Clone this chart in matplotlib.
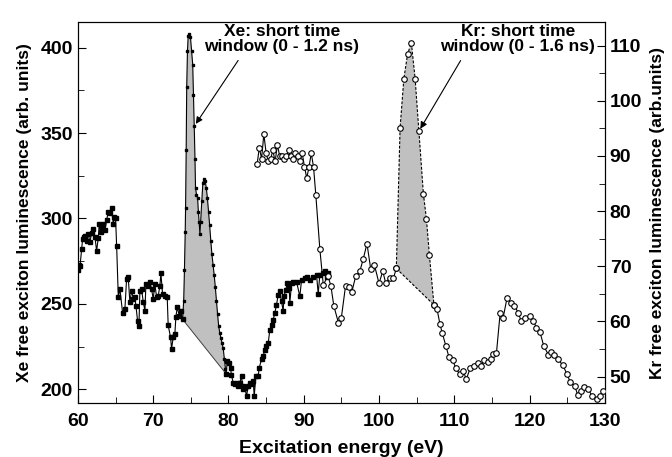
import matplotlib
matplotlib.use("Agg")
import matplotlib.pyplot as plt
from matplotlib.ticker import MultipleLocator

plt.rcParams['font.family'] = ['Liberation Sans', 'DejaVu Sans']
plt.rcParams['font.weight'] = 'bold'
plt.rcParams['axes.labelweight'] = 'bold'

# Xe free exciton luminescence (left axis), total signal
xe_e1 = [60.0, 60.1, 60.27, 60.49, 60.62, 60.8, 60.93, 61.15, 61.37, 61.59, 61.81, 62.04,
         62.26, 62.48, 62.7, 62.83, 63.0, 63.14, 63.36, 63.59, 63.81, 64.03, 64.25, 64.47,
         64.69, 64.85, 65.0, 65.14, 65.36, 65.58, 65.93, 66.24, 66.46, 66.68, 66.9, 67.13,
         67.35, 67.57, 67.7, 67.92, 68.1, 68.23, 68.45, 68.68, 68.9, 69.03, 69.25, 69.56,
         69.78, 70.0, 70.22, 70.45, 70.67, 70.89, 71.02, 71.24, 71.55, 71.86, 71.99, 72.3,
         72.44, 72.66, 72.88, 73.01, 73.19, 73.46, 73.63, 73.9]
xe_v1 = [270, 273, 272, 282, 288, 289, 290, 287, 291, 286, 291.5, 294,
         289, 281, 288.6, 297, 292, 295, 297, 293, 299, 304, 303.5, 306,
         297, 301, 300, 284, 254, 258.7, 244.8, 247.1, 264.5, 265.5, 251, 257.8,
         252.9, 253.9, 249, 240.3, 237, 257.8, 258.7, 251, 246.1, 261.6, 260.7, 262.6,
         258.7, 252.9, 261.6, 253.9, 254.8, 260.7, 268, 255.8, 254.8, 253.9, 237.4, 230.6,
         223.8, 230.6, 232.6, 242.2, 248.1, 243.2, 246.1, 241]

# Xe short time window (0 - 1.2 ns)
xe_e2 = [73.9, 74.05, 74.15, 74.25, 74.3, 74.38, 74.45, 74.55, 74.65, 74.8, 74.95, 75.1,
         75.25, 75.35, 75.45, 75.55, 75.62, 75.75, 75.9, 76.0, 76.1, 76.2, 76.3, 76.45,
         76.6, 76.75, 76.9, 77.05, 77.2, 77.35, 77.5, 77.65, 77.8, 77.95, 78.1, 78.25,
         78.4, 78.55, 78.7, 78.85, 79.0, 79.15, 79.3, 79.45, 79.6, 79.7]
xe_v2 = [241, 252, 270, 292, 306, 340, 377, 398, 407, 408, 406, 398,
         390, 372, 354, 335, 318, 314, 312, 304, 298, 291, 298, 310,
         321, 323, 322, 318, 312, 304, 296, 287, 279, 273, 267, 260,
         252, 244, 237, 233, 230, 227, 224, 218, 212, 209]

xe_e3 = [79.7, 79.83, 80.1, 80.27, 80.4, 80.63, 80.85, 81.07, 81.29, 81.51, 81.74, 81.87,
         81.96, 82.18, 82.4, 82.62, 82.84, 83.06, 83.29, 83.42, 83.64, 83.95, 84.08, 84.39,
         84.61, 84.83, 85.05, 85.28, 85.5, 85.72, 85.94, 86.16, 86.38, 86.61, 86.83, 87.05,
         87.27, 87.36, 87.62, 87.8, 88.07, 88.15, 88.38, 88.6, 89.04, 89.48, 89.71, 90.15,
         90.37, 90.81, 91.25, 91.7, 91.92, 92.14, 92.5, 92.81, 93.03, 93.25]
xe_v3 = [209, 216.5, 215.5, 212.6, 208.2, 203.9, 202.9, 203.9, 201.9, 204, 207.8, 201.9,
         200, 201, 196.1, 201.9, 203.9, 202.9, 204.8, 196.1, 207.8, 207.8, 212.6, 217.5,
         219.4, 223.3, 225.3, 227.2, 235, 237.9, 240.8, 244.7, 249.5, 255.4, 257.3, 251.5,
         245.7, 254.4, 258.3, 262.2, 259.3, 250.5, 262.2, 263.1, 263.1, 254.4, 264.1, 265.1,
         266, 264.1, 266, 267, 256, 267, 268, 269, 266, 268]

# Kr free exciton luminescence (right axis)
kr_e1 = [83.8, 84.1, 84.4, 84.7, 85.0, 85.3, 85.6, 85.9, 86.2, 86.5, 86.8, 87.1, 87.4,
         87.7, 88.0, 88.3, 88.6, 88.9, 89.2, 89.5, 89.8, 90.1, 90.4, 90.7, 91.0, 91.3,
         91.6, 92.14, 92.6, 93.2, 93.6, 94.0, 94.6, 95.0, 95.55, 96.0, 96.4, 96.9, 97.45,
         97.9, 98.4, 98.9, 99.4, 100.0, 100.5, 100.9, 101.4, 101.9, 102.3]
kr_v1 = [88.5, 91.5, 89.5, 94, 90.5, 89, 89.5, 91, 89, 92, 90, 90, 89.5,
         90, 91, 90, 89.5, 90.5, 90, 89, 90.5, 88, 86, 88, 90.5, 88,
         83, 73.1, 66.6, 68.3, 66.5, 62.8, 59.8, 60.7, 66.4, 66.2, 65.4, 68.2, 69.1,
         71.3, 74.1, 69.5, 70.2, 66.9, 69.1, 66.9, 67.9, 67.8, 69.6]

# Kr short time window (0 - 1.6 ns)
kr_e2 = [102.3, 102.8, 103.3, 103.8, 104.3, 104.8, 105.3, 105.9, 106.3, 106.7, 107.3]
kr_v2 = [69.6, 95.1, 104, 108.5, 110.5, 104, 94.5, 83.1, 78.6, 72, 63]

kr_e3 = [107.3, 107.7, 108.1, 108.4, 108.9, 109.3, 109.8, 110.2, 110.7, 111.2, 111.6,
         112.1, 112.6, 113.1, 113.6, 114.0, 114.5, 114.9, 115.2, 115.6, 116.1, 116.5,
         117.0, 117.6, 118.0, 118.5, 118.9, 119.4, 120.0, 120.5, 120.9, 121.4, 121.9,
         122.5, 122.9, 123.3, 123.8, 124.4, 125.0, 125.4, 126.0, 126.4, 126.9, 127.3,
         127.8, 128.35, 128.9, 129.3, 129.8]
kr_v3 = [63, 62.3, 59.5, 57.9, 55.5, 53.5, 53.0, 51.5, 50.5, 51.0, 49.5,
         51.5, 52.0, 52.5, 52.0, 53.0, 52.6, 53.1, 54.1, 54.2, 61.6, 60.7,
         64.2, 63.3, 62.8, 61.6, 60.0, 60.7, 60.9, 60.1, 58.9, 58.0, 55.5,
         54.0, 54.5, 54.0, 53.1, 52.1, 50.4, 49.0, 48.3, 46.7, 47.4, 48.2,
         47.7, 46.4, 45.9, 46.5, 47.4]

fig = plt.figure(figsize=(6.72, 4.57), dpi=100)
ax = fig.add_axes([0.116, 0.118, 0.784, 0.834])
ax2 = ax.twinx()

# grey area under the short time window peaks
ax.fill(xe_e2 + [xe_e2[0]], xe_v2 + [xe_v2[0]], color='#c0c0c0', lw=0, zorder=1)
ax.plot([xe_e2[0], xe_e2[-1]], [xe_v2[0], xe_v2[-1]], color='#404040', lw=0.7, zorder=2)
ax2.fill(kr_e2 + [kr_e2[0]], kr_v2 + [kr_v2[0]], color='#c0c0c0', lw=0, zorder=1)
ax2.plot([kr_e2[0], kr_e2[-1]], [kr_v2[0], kr_v2[-1]], 'k--', lw=0.8, dashes=(2.5, 1.5), zorder=2)

ax.plot(xe_e1, xe_v1, 's-', color='k', ms=3.5, lw=0.8, zorder=3)
ax.plot(xe_e2, xe_v2, 's-', color='k', ms=1.8, lw=0.8, zorder=3)
ax.plot(xe_e3, xe_v3, 's-', color='k', ms=3.5, lw=0.8, zorder=3)

ax2.plot(kr_e1, kr_v1, 'o-', color='k', mfc='white', ms=4, mew=0.8, lw=0.8, zorder=3)
ax2.plot(kr_e2, kr_v2, 'o--', color='k', mfc='white', ms=4, mew=0.8, lw=0.8,
         dashes=(2.5, 1.5), zorder=3)
ax2.plot(kr_e3, kr_v3, 'o-', color='k', mfc='white', ms=4, mew=0.8, lw=0.8, zorder=3)

ax.set_xlim(60, 130)
ax.set_ylim(192, 415)
ax2.set_ylim(45.2, 114.3)

ax.xaxis.set_major_locator(MultipleLocator(10))
ax.xaxis.set_minor_locator(MultipleLocator(5))
ax.yaxis.set_major_locator(MultipleLocator(50))
ax.yaxis.set_minor_locator(MultipleLocator(25))
ax2.yaxis.set_major_locator(MultipleLocator(10))
ax2.yaxis.set_minor_locator(MultipleLocator(5))
ax.tick_params(which='both', direction='in', labelsize=14, top=False)
ax.tick_params(axis='x', which='both', pad=7)
ax.tick_params(which='major', length=6)
ax.tick_params(which='minor', length=4)
ax2.tick_params(which='both', direction='in', labelsize=14)
ax2.tick_params(which='major', length=6)
ax2.tick_params(which='minor', length=4)

ax.set_xlabel('Excitation energy (eV)', fontsize=14, labelpad=7)
ax.set_ylabel('Xe free exciton luminescence (arb. units)', fontsize=12.5, labelpad=6)
ax2.set_ylabel('Kr free exciton luminescence (arb.units)', fontsize=12.5, labelpad=6)

ax.text(0.387, 0.955, 'Xe: short time\nwindow (0 - 1.2 ns)', transform=ax.transAxes,
        ha='center', va='center', fontsize=12.5, fontweight='bold', linespacing=1.0)
ax2.text(0.835, 0.955, 'Kr: short time\nwindow (0 - 1.6 ns)', transform=ax2.transAxes,
         ha='center', va='center', fontsize=12.5, fontweight='bold', linespacing=1.0)
ax.annotate('', xy=(75.45, 354), xytext=(0.307, 0.905), textcoords='axes fraction',
            arrowprops=dict(arrowstyle='-|>', color='k', lw=0.8, mutation_scale=10), zorder=4)
ax2.annotate('', xy=(105.3, 94.5), xytext=(0.729, 0.905), textcoords='axes fraction',
             arrowprops=dict(arrowstyle='-|>', color='k', lw=0.8, mutation_scale=10), zorder=4)

plt.savefig('out.png', dpi=100)
